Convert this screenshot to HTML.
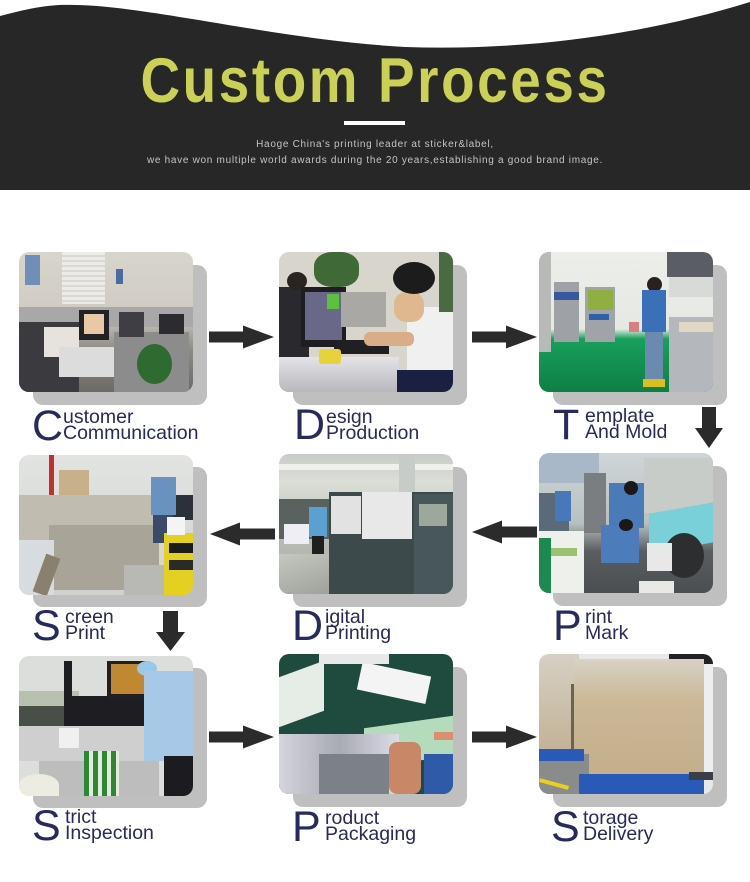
<!DOCTYPE html>
<html>
<head>
<meta charset="utf-8">
<style>
*{margin:0;padding:0;box-sizing:border-box}
html,body{width:750px;height:882px;background:#fff;overflow:hidden}
#c{position:relative;width:750px;height:882px;background:#fff;font-family:"Liberation Sans",Arial,sans-serif}
.abs{position:absolute}
.title{position:absolute;left:0;top:50px;width:750px;text-align:center;font-size:63px;line-height:63px;font-weight:bold;color:#cbd155;letter-spacing:3px;transform:scaleX(0.87);transform-origin:375px 0}
.sub{position:absolute;left:0;top:137px;width:750px;text-align:center;font-size:10px;line-height:16px;color:#c4c4c4;letter-spacing:0.7px}
.bar{position:absolute;left:344px;top:121px;width:61px;height:4px;background:#fff}
.sh{position:absolute;width:174px;height:140px;background:#bfbfbf;border-radius:10px}
.ph{position:absolute;width:174px;height:140px;border-radius:10px;overflow:hidden}
.ph div{position:absolute}
.big{position:absolute;font-size:43px;line-height:43px;color:#262a5c}
.sm{position:absolute;font-size:19.5px;line-height:16px;color:#262a5c;white-space:nowrap}
</style>
</head>
<body>
<div id="c">
<svg class="abs" style="left:0;top:0" width="750" height="882" viewBox="0 0 750 882">
  <path d="M0,16 C30,8 50,4 75,5 C150,6 280,40 405,47 C520,51 640,36 750,2 L750,190 L0,190 Z" fill="#272727"/>
</svg>
<div class="title">Custom Process</div>
<div class="bar"></div>
<div class="sub">Haoge China's printing leader at sticker&amp;label,<br>we have won multiple world awards during the 20 years,establishing a good brand image.</div>

<!-- shadows -->
<div class="sh" style="left:33px;top:265px"></div>
<div class="sh" style="left:293px;top:265px"></div>
<div class="sh" style="left:553px;top:265px"></div>
<div class="sh" style="left:33px;top:467px"></div>
<div class="sh" style="left:293px;top:467px"></div>
<div class="sh" style="left:553px;top:466px"></div>
<div class="sh" style="left:33px;top:668px"></div>
<div class="sh" style="left:293px;top:667px"></div>
<div class="sh" style="left:553px;top:667px"></div>

<!-- Photo 1: Customer communication -->
<div class="ph" style="left:19px;top:252px;background:linear-gradient(#d8d5cc,#cfcbc2 45%,#8d8a84 70%,#6c6a66)">
  <div style="left:43px;top:0;width:43px;height:52px;background:repeating-linear-gradient(#ecebe8 0 3px,#d9d8d4 3px 5px)"></div>
  <div style="left:6px;top:3px;width:15px;height:30px;background:#6f8fb8"></div>
  <div style="left:97px;top:17px;width:7px;height:15px;background:#4a6aa0"></div>
  <div style="left:0;top:55px;width:174px;height:20px;background:#a8a8a8"></div>
  <div style="left:0;top:70px;width:60px;height:70px;background:#3b3a3e"></div>
  <div style="left:25px;top:75px;width:35px;height:30px;background:#e6e2de"></div>
  <div style="left:40px;top:95px;width:80px;height:30px;background:#dcdcdc"></div>
  <div style="left:60px;top:58px;width:30px;height:30px;background:#222226"></div>
  <div style="left:65px;top:62px;width:20px;height:20px;background:#e9c8a8"></div>
  <div style="left:95px;top:80px;width:75px;height:60px;background:#8c8c8c"></div>
  <div style="left:118px;top:92px;width:35px;height:40px;background:#2f6a30;border-radius:50%"></div>
  <div style="left:100px;top:60px;width:25px;height:25px;background:#3e3e44"></div>
  <div style="left:140px;top:62px;width:25px;height:20px;background:#2c2c30"></div>
</div>

<!-- Photo 2: Design production -->
<div class="ph" style="left:279px;top:252px;background:#d8d6cc">
  <div style="left:35px;top:0;width:45px;height:35px;background:#3f6a38;border-radius:40%"></div>
  <div style="left:0;top:35px;width:30px;height:70px;background:#2a2a2e"></div>
  <div style="left:8px;top:20px;width:20px;height:18px;background:#2a2420;border-radius:50%"></div>
  <div style="left:22px;top:35px;width:45px;height:60px;background:#1e1e22"></div>
  <div style="left:26px;top:40px;width:37px;height:48px;background:#6a6888"></div>
  <div style="left:48px;top:42px;width:12px;height:15px;background:#5cc040"></div>
  <div style="left:62px;top:40px;width:45px;height:35px;background:#aaa8a4"></div>
  <div style="left:0;top:105px;width:120px;height:35px;background:linear-gradient(#e4e4e8,#b8b8bc)"></div>
  <div style="left:55px;top:88px;width:55px;height:14px;background:#202024"></div>
  <div style="left:40px;top:97px;width:22px;height:15px;background:#e8d23a;border-radius:3px"></div>
  <div style="left:128px;top:55px;width:46px;height:85px;background:#f0f0f0;border-radius:12px 0 0 0"></div>
  <div style="left:115px;top:40px;width:30px;height:30px;background:#e0b890;border-radius:40%"></div>
  <div style="left:114px;top:10px;width:42px;height:32px;background:#1c1c1c;border-radius:50%"></div>
  <div style="left:85px;top:80px;width:50px;height:14px;background:#d8ad88;border-radius:6px"></div>
  <div style="left:118px;top:118px;width:56px;height:22px;background:#1a2040"></div>
  <div style="left:160px;top:0;width:14px;height:60px;background:#4a6a44"></div>
</div>

<!-- Photo 3: Template and mold -->
<div class="ph" style="left:539px;top:252px;background:linear-gradient(#eceeea 0,#e6e8e4 55%,#18a05c 62%,#0f7e46)">
  <div style="left:0;top:0;width:12px;height:100px;background:#b8bab8"></div>
  <div style="left:15px;top:30px;width:25px;height:60px;background:#9ea2a6"></div>
  <div style="left:15px;top:40px;width:25px;height:8px;background:#3858a0"></div>
  <div style="left:46px;top:35px;width:30px;height:55px;background:#a0a4a8"></div>
  <div style="left:49px;top:38px;width:25px;height:20px;background:#8fb040"></div>
  <div style="left:50px;top:62px;width:20px;height:6px;background:#3060a8"></div>
  <div style="left:90px;top:70px;width:10px;height:10px;background:#d88080"></div>
  <div style="left:128px;top:0;width:46px;height:25px;background:#5a5e64"></div>
  <div style="left:130px;top:25px;width:44px;height:20px;background:#d8dad8"></div>
  <div style="left:130px;top:65px;width:44px;height:75px;background:#b4b8bc"></div>
  <div style="left:140px;top:70px;width:34px;height:10px;background:#e0d8c4"></div>
  <div style="left:108px;top:25px;width:15px;height:15px;background:#2a2020;border-radius:50%"></div>
  <div style="left:103px;top:38px;width:24px;height:42px;background:#3a70b8"></div>
  <div style="left:106px;top:80px;width:18px;height:52px;background:#6a8ab0"></div>
  <div style="left:104px;top:127px;width:22px;height:8px;background:#d8c020"></div>
</div>

<!-- Photo 4: Screen print -->
<div class="ph" style="left:19px;top:455px;background:linear-gradient(#e2e4e2,#d0d2ce)">
  <div style="left:30px;top:0;width:5px;height:60px;background:#c03030"></div>
  <div style="left:40px;top:15px;width:30px;height:35px;background:#c8b08a"></div>
  <div style="left:0;top:40px;width:140px;height:45px;background:#c0bcb0"></div>
  <div style="left:30px;top:70px;width:110px;height:65px;background:#a8a598"></div>
  <div style="left:0;top:85px;width:35px;height:55px;background:#d8dce0"></div>
  <div style="left:20px;top:100px;width:15px;height:40px;background:#8a8070;transform:rotate(20deg)"></div>
  <div style="left:135px;top:40px;width:40px;height:25px;background:#2c3038"></div>
  <div style="left:132px;top:22px;width:25px;height:38px;background:#6a92c0"></div>
  <div style="left:134px;top:60px;width:20px;height:28px;background:#3a4a68"></div>
  <div style="left:145px;top:78px;width:29px;height:62px;background:#e4d020"></div>
  <div style="left:150px;top:88px;width:24px;height:10px;background:#1c1c1c"></div>
  <div style="left:150px;top:105px;width:24px;height:10px;background:#2a2a2a"></div>
  <div style="left:148px;top:62px;width:18px;height:18px;background:#f4f4f4"></div>
  <div style="left:105px;top:110px;width:40px;height:30px;background:#b8b8b4"></div>
</div>

<!-- Photo 5: Digital printing -->
<div class="ph" style="left:279px;top:454px;background:linear-gradient(#c8ccc6,#dcded8 20%,#b8bcb4 60%,#a8aca4)">
  <div style="left:0;top:10px;width:174px;height:6px;background:#f0f0ec"></div>
  <div style="left:120px;top:0;width:16px;height:45px;background:#c8ccc8"></div>
  <div style="left:0;top:45px;width:55px;height:40px;background:#5a6260"></div>
  <div style="left:50px;top:38px;width:124px;height:102px;background:#3c4a4c"></div>
  <div style="left:52px;top:42px;width:30px;height:38px;background:#e2e2e2"></div>
  <div style="left:83px;top:38px;width:50px;height:47px;background:#e8e8e8"></div>
  <div style="left:135px;top:40px;width:39px;height:100px;background:#48585a"></div>
  <div style="left:140px;top:50px;width:28px;height:22px;background:#9ca89c"></div>
  <div style="left:30px;top:53px;width:18px;height:30px;background:#5aa0d0"></div>
  <div style="left:33px;top:82px;width:12px;height:30px;background:#1e2020"></div>
  <div style="left:5px;top:70px;width:25px;height:20px;background:#eeeef4"></div>
  <div style="left:0;top:100px;width:50px;height:40px;background:linear-gradient(160deg,#c4c8c0,#9ea29a)"></div>
</div>

<!-- Photo 6: Print mark -->
<div class="ph" style="left:539px;top:453px;background:linear-gradient(#d0d6d8,#b8c0c0 50%,#5a5e60 70%,#4a4e50)">
  <div style="left:0;top:0;width:60px;height:30px;background:#a8b8c8"></div>
  <div style="left:0;top:40px;width:30px;height:45px;background:#5a6a78"></div>
  <div style="left:16px;top:38px;width:16px;height:30px;background:#4878b8"></div>
  <div style="left:45px;top:20px;width:22px;height:60px;background:#7a7e80"></div>
  <div style="left:70px;top:30px;width:35px;height:45px;background:#4a7ab8"></div>
  <div style="left:62px;top:72px;width:38px;height:38px;background:#4c7cba"></div>
  <div style="left:85px;top:28px;width:14px;height:14px;background:#1c1818;border-radius:50%"></div>
  <div style="left:80px;top:66px;width:14px;height:12px;background:#1c1818;border-radius:50%"></div>
  <div style="left:105px;top:5px;width:69px;height:55px;background:#c8ccc8"></div>
  <div style="left:110px;top:55px;width:64px;height:40px;background:#7ad0d8;transform:skewY(-10deg)"></div>
  <div style="left:125px;top:80px;width:40px;height:45px;background:#2c2e30;border-radius:50%"></div>
  <div style="left:108px;top:90px;width:25px;height:28px;background:#e8e8e8"></div>
  <div style="left:0;top:78px;width:45px;height:62px;background:#eef0ec"></div>
  <div style="left:8px;top:95px;width:30px;height:8px;background:#9ac070"></div>
  <div style="left:0;top:85px;width:12px;height:55px;background:#1c8a50"></div>
  <div style="left:100px;top:128px;width:35px;height:12px;background:#e8e8e4"></div>
</div>

<!-- Photo 7: Strict inspection -->
<div class="ph" style="left:19px;top:656px;background:#dcdedc">
  <div style="left:0;top:35px;width:60px;height:30px;background:#b8c0b0"></div>
  <div style="left:0;top:50px;width:70px;height:20px;background:#4a4e48"></div>
  <div style="left:45px;top:40px;width:80px;height:30px;background:#1e1e22"></div>
  <div style="left:45px;top:5px;width:8px;height:40px;background:#1e1e22"></div>
  <div style="left:88px;top:5px;width:42px;height:38px;background:#202024"></div>
  <div style="left:92px;top:8px;width:34px;height:30px;background:#c08830"></div>
  <div style="left:0;top:70px;width:140px;height:35px;background:#cfcfcf"></div>
  <div style="left:20px;top:105px;width:120px;height:35px;background:#bdbdbd"></div>
  <div style="left:65px;top:95px;width:35px;height:45px;background:repeating-linear-gradient(90deg,#2a8a30 0 5px,#e8e8e0 5px 9px)"></div>
  <div style="left:40px;top:72px;width:20px;height:20px;background:#f0f0f0"></div>
  <div style="left:118px;top:5px;width:20px;height:15px;background:#9ac8e8;border-radius:50%"></div>
  <div style="left:125px;top:15px;width:49px;height:90px;background:#a8c8e8"></div>
  <div style="left:145px;top:100px;width:29px;height:40px;background:#1c1c20"></div>
  <div style="left:0;top:118px;width:40px;height:22px;background:#ecece0;border-radius:50% 50% 0 0"></div>
</div>

<!-- Photo 8: Product packaging -->
<div class="ph" style="left:279px;top:654px;background:#1f4a3e">
  <div style="left:0;top:15px;width:45px;height:50px;background:#e6ece6;transform:skewY(-20deg)"></div>
  <div style="left:80px;top:15px;width:70px;height:28px;background:#f4f4f4;transform:rotate(12deg)"></div>
  <div style="left:40px;top:0;width:70px;height:10px;background:#e8e8e8"></div>
  <div style="left:85px;top:68px;width:89px;height:40px;background:#b4dcbc;transform:skewY(-8deg)"></div>
  <div style="left:0;top:80px;width:120px;height:60px;background:linear-gradient(90deg,#d4d4dc,#a8aab4 50%,#dcdce4)"></div>
  <div style="left:40px;top:100px;width:70px;height:40px;background:#7c8088"></div>
  <div style="left:110px;top:88px;width:32px;height:52px;background:#c88868;border-radius:8px"></div>
  <div style="left:145px;top:100px;width:29px;height:40px;background:#2e5aa8"></div>
  <div style="left:155px;top:78px;width:19px;height:8px;background:#d89070"></div>
</div>

<!-- Photo 9: Storage delivery -->
<div class="ph" style="left:539px;top:654px;background:#e8e8e8">
  <div style="left:130px;top:0;width:44px;height:10px;background:#222226"></div>
  <div style="left:160px;top:10px;width:14px;height:115px;background:#eeeeee"></div>
  <div style="left:0;top:0;width:40px;height:110px;background:linear-gradient(#d6d0c4,#c0ae90)"></div>
  <div style="left:35px;top:5px;width:130px;height:118px;background:linear-gradient(#d8d2c6,#cbb896 35%,#c4ae8c)"></div>
  <div style="left:32px;top:30px;width:3px;height:90px;background:#6a6450"></div>
  <div style="left:0;top:100px;width:50px;height:40px;background:#8a8c8c"></div>
  <div style="left:0;top:128px;width:30px;height:4px;background:#e8d020;transform:rotate(15deg)"></div>
  <div style="left:0;top:95px;width:45px;height:12px;background:#2a5ab8"></div>
  <div style="left:40px;top:120px;width:125px;height:20px;background:#2a5ab8"></div>
  <div style="left:150px;top:118px;width:24px;height:8px;background:#3a3e48"></div>
</div>

<!-- arrows -->
<svg class="abs" style="left:0;top:0" width="750" height="882" viewBox="0 0 750 882">
  <g fill="#2b2b2b">
    <polygon points="209,331.5 243,331.5 243,325.5 274,337 243,348.5 243,342.5 209,342.5"/>
    <polygon points="472,331.5 506,331.5 506,325.5 537,337 506,348.5 506,342.5 472,342.5"/>
    <polygon points="702,407 716,407 716,428 723,428 709,448 695,428 702,428"/>
    <polygon points="275,528.5 240,528.5 240,522.5 210,534 240,545.5 240,539.5 275,539.5"/>
    <polygon points="537,526.5 502,526.5 502,520.5 472,532 502,543.5 502,537.5 537,537.5"/>
    <polygon points="163,611 178,611 178,632 185,632 170.5,651 156,632 163,632"/>
    <polygon points="209,731.5 243,731.5 243,725.5 274,737 243,748.5 243,742.5 209,742.5"/>
    <polygon points="472,731.5 506,731.5 506,725.5 537,737 506,748.5 506,742.5 472,742.5"/>
  </g>
</svg>

<!-- labels row 1 -->
<div class="big" style="left:32px;top:405px">C</div>
<div class="sm" style="left:63px;top:409px">ustomer<br>Communication</div>
<div class="big" style="left:294px;top:404px">D</div>
<div class="sm" style="left:326px;top:409px">esign<br>Production</div>
<div class="big" style="left:553px;top:404px">T</div>
<div class="sm" style="left:585px;top:408px">emplate<br>And Mold</div>

<!-- labels row 2 -->
<div class="big" style="left:32px;top:605px">S</div>
<div class="sm" style="left:65px;top:609px">creen<br>Print</div>
<div class="big" style="left:292px;top:605px">D</div>
<div class="sm" style="left:325px;top:609px">igital<br>Printing</div>
<div class="big" style="left:553px;top:605px">P</div>
<div class="sm" style="left:585px;top:609px">rint<br>Mark</div>

<!-- labels row 3 -->
<div class="big" style="left:32px;top:805px">S</div>
<div class="sm" style="left:65px;top:809px">trict<br>Inspection</div>
<div class="big" style="left:292px;top:806px">P</div>
<div class="sm" style="left:325px;top:810px">roduct<br>Packaging</div>
<div class="big" style="left:551px;top:806px">S</div>
<div class="sm" style="left:583px;top:810px">torage<br>Delivery</div>
</div>
</body>
</html>
